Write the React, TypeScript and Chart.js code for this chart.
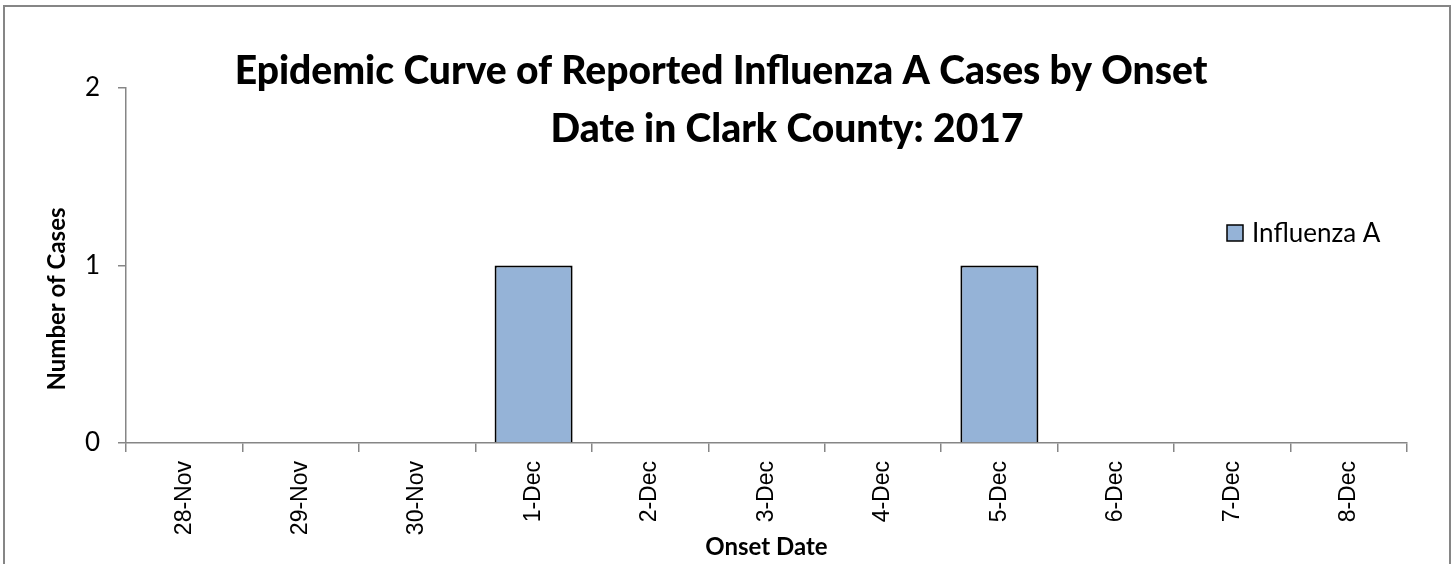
import React, { useEffect, useRef } from 'react';
import { Chart, registerables } from 'chart.js';

Chart.register(...registerables);

const categories = ['28-Nov', '29-Nov', '30-Nov', '1-Dec', '2-Dec', '3-Dec', '4-Dec', '5-Dec', '6-Dec', '7-Dec', '8-Dec'];
const influenzaA = [0, 0, 0, 1, 0, 0, 0, 1, 0, 0, 0];
const yMin = 0;
const yMax = 2;
const yStep = 1;
const titleLines = ['Epidemic Curve of Reported Influenza A Cases by Onset', 'Date in Clark County: 2017'];
const seriesName = 'Influenza A';
const xTitle = 'Onset Date';
const yTitle = 'Number of Cases';

const BAR_FILL = '#95B3D7';
const AXIS_GRAY = '#868686';

const overlayPlugin = {
  id: 'overlay',
  afterDraw(chart: any) {
    const ctx = chart.ctx as CanvasRenderingContext2D;
    const area = chart.chartArea;
    ctx.save();
    // outer frame
    ctx.strokeStyle = AXIS_GRAY;
    ctx.lineWidth = 2;
    ctx.strokeRect(4, 6, 1446, 600);

    // title
    ctx.fillStyle = '#000';
    ctx.font = '900 39px Lato';
    ctx.textAlign = 'center';
    ctx.textBaseline = 'alphabetic';
    ctx.fillText(titleLines[0], 721, 84);
    ctx.fillText(titleLines[1], 787, 142);

    // x axis title
    ctx.font = 'bold 24px Lato';
    ctx.fillText(xTitle, (area.left + area.right) / 2, 555);

    // y axis title
    ctx.save();
    ctx.translate(65, 299);
    ctx.rotate(-Math.PI / 2);
    ctx.fillText(yTitle, 0, 0);
    ctx.restore();

    // legend
    ctx.fillStyle = BAR_FILL;
    ctx.fillRect(1227, 225, 16, 16);
    ctx.strokeStyle = '#000';
    ctx.lineWidth = 1.5;
    ctx.strokeRect(1227, 225, 16, 16);
    ctx.fillStyle = '#000';
    ctx.font = '26px Lato';
    ctx.textAlign = 'left';
    ctx.fillText(seriesName, 1252, 242);
    ctx.restore();
  },
};

export default function App() {
  const canvasRef = useRef<HTMLCanvasElement | null>(null);

  useEffect(() => {
    document.body.style.margin = '0';
    const canvas = canvasRef.current;
    if (!canvas) return;
    const chart = new Chart(canvas, {
      type: 'bar',
      data: {
        labels: categories,
        datasets: [
          {
            label: seriesName,
            data: influenzaA,
            backgroundColor: BAR_FILL,
            borderColor: '#000',
            borderWidth: 2,
            barPercentage: 0.67,
            categoryPercentage: 1,
          },
        ],
      },
      options: {
        responsive: false,
        animation: false,
        devicePixelRatio: 1,
        layout: { padding: { left: 0, right: 49, top: 88, bottom: 0 } },
        plugins: {
          legend: { display: false },
          title: { display: false },
          tooltip: { enabled: false },
        },
        scales: {
          x: {
            grid: {
              drawOnChartArea: false,
              drawTicks: true,
              tickLength: 9,
              color: AXIS_GRAY,
              lineWidth: 1.5,
              offset: true,
            },
            border: { color: AXIS_GRAY, width: 1.5 },
            ticks: {
              autoSkip: false,
              minRotation: 90,
              maxRotation: 90,
              padding: 9,
              color: '#000',
              font: { family: '"Liberation Sans", Arial, sans-serif', size: 23 },
            },
            afterFit: (s: any) => {
              s.height = 121;
            },
          },
          y: {
            min: yMin,
            max: yMax,
            grid: {
              drawOnChartArea: false,
              drawTicks: true,
              tickLength: 8,
              color: AXIS_GRAY,
              lineWidth: 1.5,
            },
            border: { color: AXIS_GRAY, width: 1.5 },
            ticks: {
              stepSize: yStep,
              padding: 18,
              color: '#000',
              font: { family: 'Lato', size: 26 },
            },
            afterFit: (s: any) => {
              s.width = 126;
            },
          },
        },
      },
      plugins: [overlayPlugin],
    });
    const fonts = (document as any).fonts;
    if (fonts && fonts.load) {
      Promise.all([
        fonts.load('900 39px Lato'),
        fonts.load('bold 24px Lato'),
        fonts.load('26px Lato'),
        fonts.load('23px "Liberation Sans"'),
      ]).then(() => chart.update()).catch(() => {});
    }
    return () => chart.destroy();
  }, []);

  return (
    <div style={{ width: 1456, height: 564, background: '#fff' }}>
      <canvas ref={canvasRef} width={1456} height={564} style={{ display: 'block' }} />
    </div>
  );
}
